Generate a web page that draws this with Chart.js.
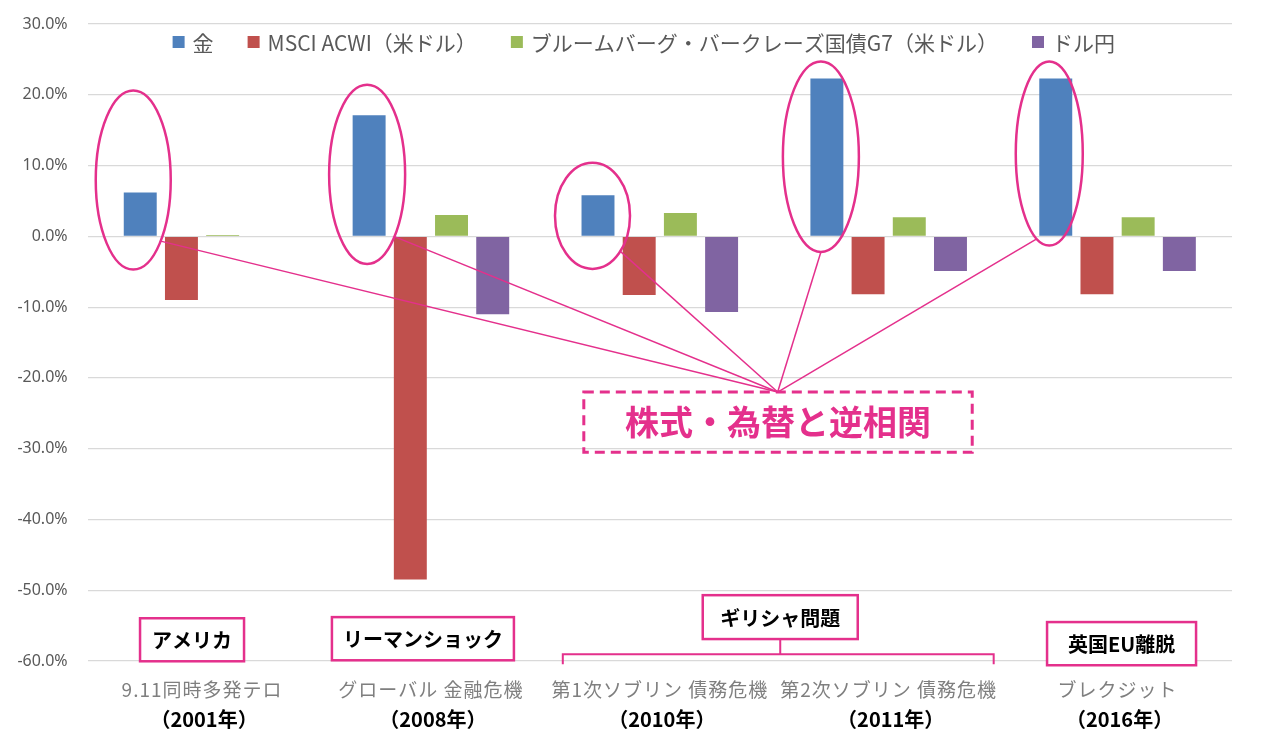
<!DOCTYPE html>
<html lang="ja">
<head>
<meta charset="utf-8">
<script src="https://cdn.jsdelivr.net/npm/chart.js@4.4.1/dist/chart.umd.min.js"></script>
<style>
  html, body { margin: 0; padding: 0; background: #ffffff; }
  #wrap { position: relative; width: 1261px; height: 748px; }
</style>
</head>
<body>
<div id="wrap"><canvas id="c" width="1261" height="748"></canvas></div>
<script>
// ---- data ----
const eventNames = ['9.11同時多発テロ', 'グローバル 金融危機', '第1次ソブリン 債務危機', '第2次ソブリン 債務危機', 'ブレクジット'];
const eventYears = ['（2001年）', '（2008年）', '（2010年）', '（2011年）', '（2016年）'];
const seriesNames = ['金', 'MSCI ACWI（米ドル）', 'ブルームバーグ・バークレーズ国債G7（米ドル）', 'ドル円'];
const goldValues = [6.2, 17.1, 5.8, 22.3, 22.3];
const acwiValues = [-9.0, -48.5, -8.3, -8.2, -8.2];
const bondValues = [0.2, 3.0, 3.3, 2.7, 2.7];
const usdjpyValues = [0.0, -11.0, -10.7, -4.9, -4.9];
const yTickMin = -60, yTickMax = 30, yTickStep = 10;
const calloutText = '株式・為替と逆相関';
const regionLabels = ['アメリカ', 'リーマンショック', 'ギリシャ問題', '英国EU離脱'];

// ---- styles ----
const seriesColors = ['#4F81BD', '#C0504D', '#9BBB59', '#8064A2'];
const PINK = '#E4308C';
const JP = "'Noto Sans CJK JP', 'Noto Sans', sans-serif";

// annotation geometry (value space on y, offsets from bars on x)
const ellipses = [
  { cat: 0, dx: -7,  rx: 37.5, top: 20.6, bottom: -4.7, angle: 43 },
  { cat: 1, dx: -2,  rx: 38,   top: 21.4, bottom: -3.9, angle: 44 },
  { cat: 2, dx: -5.5,rx: 37.5, top: 10.4, bottom: -4.6, angle: 42 },
  { cat: 3, dx: -6,  rx: 38,   top: 24.7, bottom: -2.2, angle: 90 },
  { cat: 4, dx: -6.5,rx: 33.5, top: 24.7, bottom: -1.3, angle: 112 }
];
const focusX = 2.515, focusY = -22.0;
const calloutBox = { x0: 1.668, x1: 3.365, top: -22.0, bottom: -30.5, textY: -26.2 };
const regionBoxes = [
  { at: 0,   dx: -10, w: 104, top: -53.96, bottom: -60.04 },
  { at: 1,   dx: -8,  w: 182, top: -53.8,  bottom: -59.9 },
  { at: 2.5, dx: 6,   w: 155, top: -50.7,  bottom: -56.9 },
  { at: 4,   dx: 4,   w: 149, top: -54.5,  bottom: -60.6 }
];
const bracket = { from: 2, fromDx: -97, to: 3, toDx: 105, y: -59.05, tickY: -60.45, midAt: 2.5, midDx: 6 };

const datasets = [goldValues, acwiValues, bondValues, usdjpyValues].map((vals, i) => ({
  label: seriesNames[i],
  data: vals,
  backgroundColor: seriesColors[i],
  borderWidth: 0,
  categoryPercentage: 0.72,
  barPercentage: 0.8
}));

const legendPlugin = {
  id: 'customLegend',
  afterDraw(chart) {
    const { ctx, chartArea } = chart;
    ctx.save();
    ctx.font = '21px ' + JP;
    ctx.textBaseline = 'middle';
    const box = 12, gapText = 8, gapItem = 34;
    const widths = chart.data.datasets.map(d => box + gapText + ctx.measureText(d.label).width);
    const total = widths.reduce((a, b) => a + b, 0) + gapItem * (widths.length - 1);
    let x = (chartArea.left + chartArea.right) / 2 - 16 - total / 2;
    const yc = chartArea.top + 18;
    chart.data.datasets.forEach((d, i) => {
      ctx.fillStyle = d.backgroundColor;
      ctx.fillRect(x, yc - box / 2, box, box);
      ctx.fillStyle = '#595959';
      ctx.textAlign = 'left';
      ctx.fillText(d.label, x + box + gapText, yc + 1);
      x += widths[i] + gapItem;
    });
    ctx.restore();
  }
};

const xLabelPlugin = {
  id: 'xLabels',
  afterDraw(chart) {
    const { ctx, chartArea, scales: { x } } = chart;
    ctx.save();
    ctx.textAlign = 'center';
    ctx.textBaseline = 'middle';
    eventNames.forEach((name, i) => {
      const cx = x.getPixelForValue(i);
      ctx.font = '19px ' + JP;
      ctx.fillStyle = '#7F7F7F';
      ctx.letterSpacing = '1px';
      ctx.fillText(name, cx, chartArea.bottom + 29);
      ctx.letterSpacing = '0px';
      ctx.font = 'bold 20px ' + JP;
      ctx.fillStyle = '#000000';
      ctx.fillText(eventYears[i], cx + 2, chartArea.bottom + 58);
    });
    ctx.restore();
  }
};

const annotationPlugin = {
  id: 'annotations',
  afterDatasetsDraw(chart) {
    const { ctx, scales: { x, y } } = chart;
    const blue = chart.getDatasetMeta(0).data;
    const fx = x.getPixelForValue(focusX), fy = y.getPixelForValue(focusY);
    ctx.save();
    ctx.strokeStyle = PINK;
    // ellipses and connector lines
    ellipses.forEach(e => {
      const cx = blue[e.cat].x + e.dx;
      const t = y.getPixelForValue(e.top), b = y.getPixelForValue(e.bottom);
      const cy = (t + b) / 2, ry = (b - t) / 2;
      ctx.lineWidth = 2.5;
      ctx.beginPath();
      ctx.ellipse(cx, cy, e.rx, ry, 0, 0, Math.PI * 2);
      ctx.stroke();
      const a = e.angle * Math.PI / 180;
      ctx.lineWidth = 1.5;
      ctx.beginPath();
      ctx.moveTo(cx + e.rx * Math.cos(a), cy + ry * Math.sin(a));
      ctx.lineTo(fx, fy);
      ctx.stroke();
    });
    // dashed callout
    const bx0 = x.getPixelForValue(calloutBox.x0), bx1 = x.getPixelForValue(calloutBox.x1);
    const by0 = y.getPixelForValue(calloutBox.top), by1 = y.getPixelForValue(calloutBox.bottom);
    ctx.lineWidth = 3;
    ctx.setLineDash([10, 6]);
    ctx.strokeRect(bx0, by0, bx1 - bx0, by1 - by0);
    ctx.setLineDash([]);
    ctx.fillStyle = PINK;
    ctx.font = 'bold 34px ' + JP;
    ctx.textAlign = 'center';
    ctx.textBaseline = 'middle';
    ctx.fillText(calloutText, (bx0 + bx1) / 2, y.getPixelForValue(calloutBox.textY));
    // region boxes
    regionBoxes.forEach((r, i) => {
      const cx = x.getPixelForValue(r.at) + r.dx;
      const t = y.getPixelForValue(r.top), b = y.getPixelForValue(r.bottom);
      ctx.fillStyle = '#ffffff';
      ctx.fillRect(cx - r.w / 2, t, r.w, b - t);
      ctx.lineWidth = 2.5;
      ctx.strokeStyle = PINK;
      ctx.strokeRect(cx - r.w / 2, t, r.w, b - t);
      ctx.fillStyle = '#000000';
      ctx.font = 'bold 20px ' + JP;
      ctx.fillText(regionLabels[i], cx, (t + b) / 2 + 1);
    });
    // bracket under greek box
    const lx = x.getPixelForValue(bracket.from) + bracket.fromDx;
    const rx = x.getPixelForValue(bracket.to) + bracket.toDx;
    const byy = y.getPixelForValue(bracket.y), bty = y.getPixelForValue(bracket.tickY);
    const mx = x.getPixelForValue(bracket.midAt) + bracket.midDx;
    const gb = y.getPixelForValue(regionBoxes[2].bottom);
    ctx.lineWidth = 2;
    ctx.beginPath();
    ctx.moveTo(lx, bty); ctx.lineTo(lx, byy); ctx.lineTo(rx, byy); ctx.lineTo(rx, bty);
    ctx.moveTo(mx, byy); ctx.lineTo(mx, gb);
    ctx.stroke();
    ctx.restore();
  }
};

new Chart(document.getElementById('c'), {
  type: 'bar',
  data: { labels: eventNames.map((n, i) => [n, eventYears[i]]), datasets },
  options: {
    responsive: false,
    animation: false,
    layout: { padding: { top: 24, right: 29, bottom: 0, left: 0 } },
    plugins: { legend: { display: false }, tooltip: { enabled: false } },
    scales: {
      x: {
        grid: { display: false },
        border: { display: false },
        ticks: { display: false },
        afterFit(scale) { scale.height = 87; }
      },
      y: {
        min: yTickMin, max: yTickMax,
        border: { display: false },
        grid: { color: '#D9D9D9', lineWidth: 1.2, drawTicks: false },
        ticks: {
          stepSize: yTickStep,
          padding: 20,
          color: '#595959',
          font: { family: "'Noto Sans', 'Liberation Sans', sans-serif", size: 16 },
          callback: v => v.toFixed(1) + '%'
        },
        afterFit(scale) { scale.width = 87.6; scale.paddingTop = 0; scale.paddingBottom = 0; }
      }
    }
  },
  plugins: [annotationPlugin, legendPlugin, xLabelPlugin]
});
</script>
</body>
</html>
